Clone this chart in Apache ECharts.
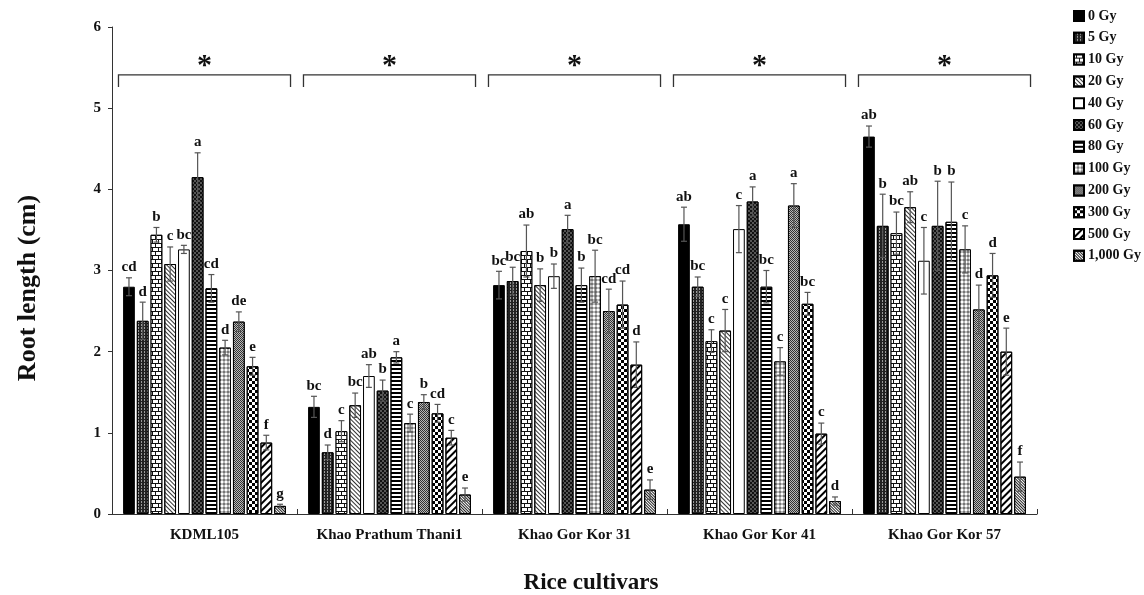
<!DOCTYPE html>
<html>
<head>
<meta charset="utf-8">
<script src="https://cdn.jsdelivr.net/npm/echarts@6/dist/echarts.min.js"></script>
<style>
  html, body { margin: 0; padding: 0; background: #fff; }
  #chart { width: 1144px; height: 595px; }
</style>
</head>
<body>
<div id="chart"></div>
<script>
// Rice cultivars on the x axis
const categories = ['KDML105', 'Khao Prathum Thani1', 'Khao Gor Kor 31', 'Khao Gor Kor 41', 'Khao Gor Kor 57'];
// Gamma-ray doses (one bar per dose in each cultivar group)
const doses = ['0 Gy', '5 Gy', '10 Gy', '20 Gy', '40 Gy', '60 Gy', '80 Gy', '100 Gy', '200 Gy', '300 Gy', '500 Gy', '1,000 Gy'];
const yTicks = [0, 1, 2, 3, 4, 5, 6];

// Mean root length (cm), ordered by dose
const meanKDML105 = [2.80, 2.38, 3.44, 3.08, 3.26, 4.15, 2.78, 2.05, 2.37, 1.82, 0.88, 0.10];
const meanKPT1    = [1.32, 0.76, 1.02, 1.34, 1.70, 1.52, 1.93, 1.12, 1.38, 1.24, 0.94, 0.24];
const meanGK31    = [2.82, 2.87, 3.24, 2.82, 2.93, 3.51, 2.82, 2.93, 2.50, 2.58, 1.84, 0.30];
const meanGK41    = [3.57, 2.80, 2.13, 2.26, 3.51, 3.85, 2.80, 1.88, 3.80, 2.59, 0.99, 0.16];
const meanGK57    = [4.65, 3.55, 3.46, 3.78, 3.12, 3.55, 3.60, 3.26, 2.52, 2.94, 2.00, 0.46];

// Standard error (cm)
const seKDML105 = [0.11, 0.23, 0.09, 0.21, 0.05, 0.30, 0.17, 0.09, 0.12, 0.11, 0.09, 0.02];
const seKPT1    = [0.13, 0.09, 0.13, 0.15, 0.14, 0.13, 0.07, 0.11, 0.09, 0.11, 0.09, 0.08];
const seGK31    = [0.17, 0.17, 0.32, 0.20, 0.15, 0.17, 0.21, 0.32, 0.27, 0.29, 0.28, 0.12];
const seGK41    = [0.21, 0.12, 0.14, 0.26, 0.29, 0.18, 0.20, 0.17, 0.27, 0.14, 0.13, 0.05];
const seGK57    = [0.13, 0.39, 0.26, 0.19, 0.41, 0.55, 0.49, 0.29, 0.30, 0.27, 0.29, 0.18];

// Significance letters
const lettersKDML105 = ['cd', 'd', 'b', 'c', 'bc', 'a', 'cd', 'd', 'de', 'e', 'f', 'g'];
const lettersKPT1    = ['bc', 'd', 'c', 'bc', 'ab', 'b', 'a', 'c', 'b', 'cd', 'c', 'e'];
const lettersGK31    = ['bc', 'bc', 'ab', 'b', 'b', 'a', 'b', 'bc', 'cd', 'cd', 'd', 'e'];
const lettersGK41    = ['ab', 'bc', 'c', 'c', 'c', 'a', 'bc', 'c', 'a', 'bc', 'c', 'd'];
const lettersGK57    = ['ab', 'b', 'bc', 'ab', 'c', 'b', 'b', 'c', 'd', 'd', 'e', 'f'];

// Marker above each cultivar group
const groupMarks = ['*', '*', '*', '*', '*'];

const means = [meanKDML105, meanKPT1, meanGK31, meanGK41, meanGK57];
const errors = [seKDML105, seKPT1, seGK31, seGK41, seGK57];
const letters = [lettersKDML105, lettersKPT1, lettersGK31, lettersGK41, lettersGK57];

const FONT = '"Liberation Serif", "Times New Roman", serif';
const BAR_GAP = 0.17;
const CAT_GAP = 0.12;

// Fill patterns, one per dose
const fills = [
  { color: '#000' },
  { color: '#222', decal: { symbol: 'rect', symbolSize: 1, color: '#9a9a9a', dashArrayX: [1, 2], dashArrayY: [2, 1] } },
  { color: '#111', decal: { symbol: 'rect', symbolSize: 1, color: '#fff', dashArrayX: [[5, 1], [2, 1, 3, 0]], dashArrayY: [3, 1] } },
  { color: '#fff', decal: { symbol: 'rect', symbolSize: 1, color: '#333', dashArrayX: [1, 0], dashArrayY: [1, 2], rotation: Math.PI / 4 } },
  { color: '#fff' },
  { color: '#111', decal: { symbol: 'circle', symbolSize: 0.7, color: '#d0d0d0', dashArrayX: [[2, 2], [0, 2, 2, 0]], dashArrayY: [2, 0] } },
  { color: '#fff', decal: { symbol: 'rect', symbolSize: 1, color: '#000', dashArrayX: [1, 0], dashArrayY: [2, 2] } },
  { color: '#777', decal: { symbol: 'diamond', symbolSize: 1, color: '#fff', dashArrayX: [4, 0], dashArrayY: [4, 0] } },
  { color: '#333', decal: { symbol: 'rect', symbolSize: 1, color: '#b8b8b8', dashArrayX: [[1, 1], [0, 1, 1, 0]], dashArrayY: [1, 0] } },
  { color: '#fff', decal: { symbol: 'rect', symbolSize: 1, color: '#000', dashArrayX: [[3, 3], [0, 3, 3, 0]], dashArrayY: [3, 0] } },
  { color: '#fff', decal: { symbol: 'rect', symbolSize: 1, color: '#000', dashArrayX: [1, 0], dashArrayY: [2, 3], rotation: -Math.PI / 4 } },
  { color: '#fff', decal: { symbol: 'rect', symbolSize: 1, color: '#222', dashArrayX: [1, 0], dashArrayY: [1, 1], rotation: Math.PI / 4 } }
];

const chart = echarts.init(document.getElementById('chart'), null, { renderer: 'canvas' });

const barSeries = doses.map((dose, d) => ({
  type: 'bar',
  name: dose,
  data: categories.map((c, ci) => means[ci][d]),
  barGap: (BAR_GAP * 100) + '%',
  barCategoryGap: (CAT_GAP * 100) + '%',
  itemStyle: Object.assign({ borderColor: '#000', borderWidth: 1 }, fills[d]),
  emphasis: { disabled: true },
  z: 2
}));

// Error bars and letters, centred on each bar using the same band layout as the bars
const errData = [];
categories.forEach((c, ci) => {
  doses.forEach((dose, d) => {
    errData.push([ci, d, means[ci][d], errors[ci][d]]);
  });
});

const errorSeries = {
  type: 'custom',
  name: 'error',
  data: errData,
  encode: { x: 0, y: 2 },
  z: 5,
  silent: true,
  renderItem: function (params, api) {
    const ci = api.value(0), d = api.value(1), v = api.value(2), e = api.value(3);
    const n = doses.length;
    const band = api.size([1, 0])[0];
    const remained = band * (1 - CAT_GAP);
    const bw = remained / (n + (n - 1) * BAR_GAP);
    const x = api.coord([ci, 0])[0] - remained / 2 + d * bw * (1 + BAR_GAP) + bw / 2;
    const yTop = api.coord([ci, v + e])[1];
    const yBot = api.coord([ci, Math.max(v - e, 0)])[1];
    const cap = 3;
    const st = { stroke: '#555', lineWidth: 1.2 };
    return {
      type: 'group',
      children: [
        { type: 'line', shape: { x1: x, y1: yTop, x2: x, y2: yBot }, style: st },
        { type: 'line', shape: { x1: x - cap, y1: yTop, x2: x + cap, y2: yTop }, style: st },
        { type: 'line', shape: { x1: x - cap, y1: yBot, x2: x + cap, y2: yBot }, style: st },
        {
          type: 'text',
          style: {
            text: letters[ci][d], x: x, y: yTop - 3,
            align: 'center', verticalAlign: 'bottom',
            font: 'bold 15px ' + FONT, fill: '#111'
          }
        }
      ]
    };
  }
};

// Bracket with an asterisk over each cultivar group
const BRACKET_TOP = 5.41, BRACKET_FOOT = 5.26, MARK_Y = 5.52;
const bracketSeries = {
  type: 'custom',
  name: 'bracket',
  data: categories.map((c, ci) => [ci, BRACKET_TOP]),
  encode: { x: 0, y: 1 },
  z: 5,
  silent: true,
  renderItem: function (params, api) {
    const ci = api.value(0);
    const band = api.size([1, 0])[0];
    const cx = api.coord([ci, 0])[0];
    const half = band * 0.465;
    const yTop = api.coord([ci, BRACKET_TOP])[1];
    const yFoot = api.coord([ci, BRACKET_FOOT])[1];
    const yMark = api.coord([ci, MARK_Y])[1];
    return {
      type: 'group',
      children: [
        {
          type: 'polyline',
          shape: { points: [[cx - half, yFoot], [cx - half, yTop], [cx + half, yTop], [cx + half, yFoot]] },
          style: { stroke: '#333', lineWidth: 1.3, fill: null }
        },
        {
          type: 'text',
          style: {
            text: groupMarks[ci], x: cx, y: yMark,
            align: 'center', verticalAlign: 'middle',
            font: 'bold 30px ' + FONT, fill: '#111'
          }
        }
      ]
    };
  }
};

const option = {
  backgroundColor: '#fff',
  animation: false,
  grid: { left: 112, right: 107, top: 27, bottom: 81, containLabel: false },
  legend: {
    orient: 'vertical',
    left: 1068,
    top: 4,
    itemWidth: 10,
    itemHeight: 10,
    itemGap: 7.8,
    icon: 'rect',
    data: doses,
    selectedMode: false,
    textStyle: { fontFamily: FONT, fontWeight: 'bold', fontSize: 14, lineHeight: 14, color: '#111', padding: [0, 0, 0, -1] }
  },
  xAxis: {
    type: 'category',
    data: categories,
    axisLine: { lineStyle: { color: '#333', width: 1 } },
    axisTick: { show: true, inside: true, length: 5, lineStyle: { color: '#333' } },
    axisLabel: { interval: 0, fontFamily: FONT, fontWeight: 'bold', fontSize: 15, color: '#111', margin: 14 }
  },
  yAxis: {
    type: 'value',
    min: yTicks[0],
    max: yTicks[yTicks.length - 1],
    interval: 1,
    splitLine: { show: false },
    axisLine: { show: true, lineStyle: { color: '#333', width: 1 } },
    axisTick: { show: true, inside: false, length: 4, lineStyle: { color: '#333' } },
    axisLabel: { fontFamily: FONT, fontWeight: 'bold', fontSize: 15, color: '#111', margin: 11 }
  },
  graphic: [
    {
      type: 'text',
      x: 28, y: 288,
      rotation: Math.PI / 2,
      style: { text: 'Root length (cm)', font: 'bold 26px ' + FONT, fill: '#111', align: 'center', verticalAlign: 'middle' }
    },
    {
      type: 'text',
      x: 591, y: 583,
      style: { text: 'Rice cultivars', font: 'bold 23px ' + FONT, fill: '#111', align: 'center', verticalAlign: 'middle' }
    }
  ],
  series: barSeries.concat([errorSeries, bracketSeries])
};

chart.setOption(option);
</script>
</body>
</html>
